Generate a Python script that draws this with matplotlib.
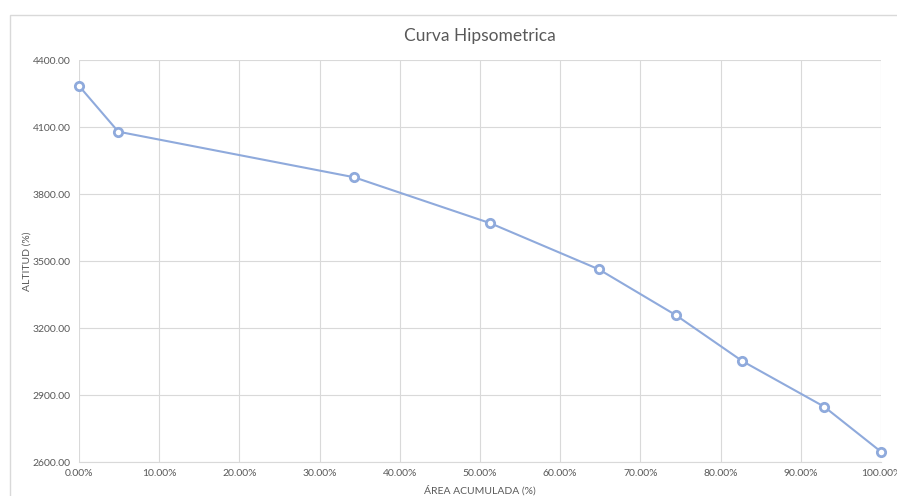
import matplotlib
matplotlib.use('Agg')
import matplotlib.pyplot as plt
from matplotlib.patches import Rectangle
from matplotlib.ticker import FuncFormatter

# datos
area_acumulada = [0.0, 4.9, 34.3, 51.3, 64.8, 74.4, 82.7, 92.9, 100.0]
altitud = [4284, 4079, 3875, 3669, 3463, 3258, 3052, 2848, 2646]

ticks_x = [0, 10, 20, 30, 40, 50, 60, 70, 80, 90, 100]
ticks_y = [2600, 2900, 3200, 3500, 3800, 4100, 4400]

titulo = 'Curva Hipsometrica'
etiqueta_x = 'ÁREA ACUMULADA (%)'
etiqueta_y = 'ALTITUD (%)'

plt.rcParams['font.family'] = ['Lato', 'DejaVu Sans']
gris = '#595959'
color_linea = '#8FAADC'

fig = plt.figure(figsize=(8.97, 4.96), dpi=100)
# marco del grafico (se sale por abajo y por la derecha)
fig.patches.append(Rectangle((10 / 897, -0.1), 1.0, 481 / 496 + 0.1, transform=fig.transFigure,
                             fill=False, edgecolor='#D9D9D9', linewidth=1))

ax = fig.add_axes([79 / 897, 34 / 496, 802 / 897, 402 / 496])
ax.plot(area_acumulada, altitud, color=color_linea, linewidth=1.5, marker='o',
        markersize=6, markerfacecolor='white', markeredgecolor=color_linea,
        markeredgewidth=2, clip_on=False, zorder=3)

ax.set_xlim(0, 100)
ax.set_ylim(2600, 4400)
ax.set_xticks(ticks_x)
ax.set_yticks(ticks_y)
ax.xaxis.set_major_formatter(FuncFormatter(lambda v, p: f'{v:.2f}%'))
ax.yaxis.set_major_formatter(FuncFormatter(lambda v, p: f'{v:.2f}'))
ax.grid(True, color='#D9D9D9', linewidth=0.8)
ax.set_axisbelow(True)
for lado in ['top', 'right', 'left']:
    ax.spines[lado].set_visible(False)
ax.spines['bottom'].set_color('#D9D9D9')
ax.tick_params(length=0, labelsize=7.5, colors=gris, pad=5)
ax.tick_params(axis='y', pad=6)

ax.set_title(titulo, fontsize=12.5, color=gris, pad=14)
ax.set_xlabel(etiqueta_x, fontsize=7.5, color=gris, labelpad=5)
ax.set_ylabel(etiqueta_y, fontsize=7.5, color=gris, labelpad=1)

fig.savefig('out.png', dpi=100)
